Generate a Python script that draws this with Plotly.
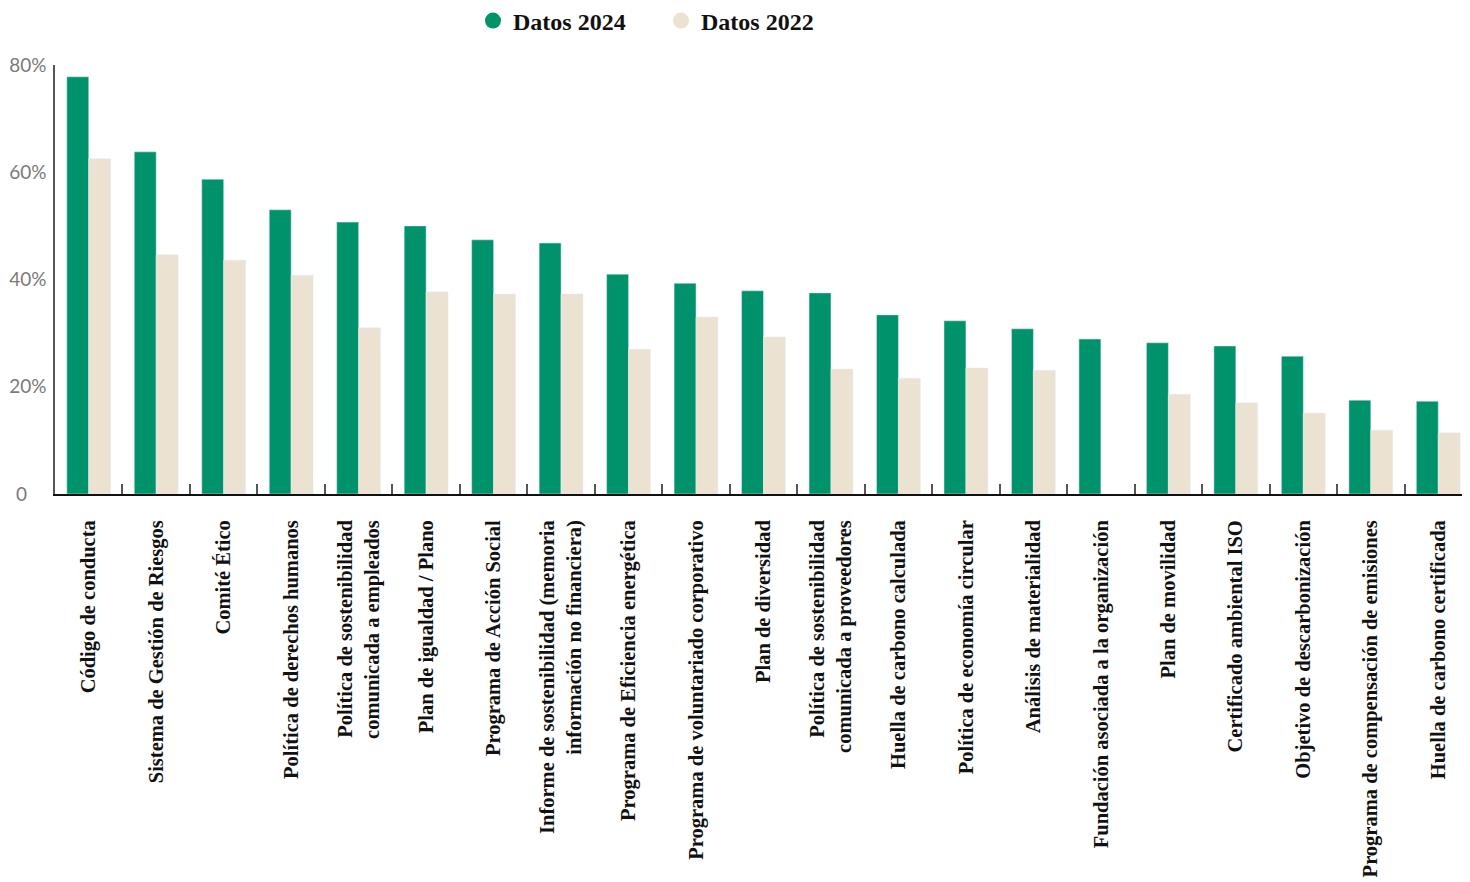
import plotly.graph_objects as go

categories = [
    "Código de conducta",
    "Sistema de Gestión de Riesgos",
    "Comité Ético",
    "Política de derechos humanos",
    "Política de sostenibilidad<br>comunicada a empleados",
    "Plan de igualdad / Plano",
    "Programa de Acción Social",
    "Informe de sostenibilidad (memoria<br>información no financiera)",
    "Programa de Eficiencia energética",
    "Programa de voluntariado corporativo",
    "Plan de diversidad",
    "Política de sostenibilidad<br>comunicada a proveedores",
    "Huella de carbono calculada",
    "Política de economía circular",
    "Análisis de materialidad",
    "Fundación asociada a la organización",
    "Plan de movilidad",
    "Certificado ambiental ISO",
    "Objetivo de descarbonización",
    "Programa de compensación de emisiones",
    "Huella de carbono certificada",
]
datos_2024 = [77.8, 63.8, 58.7, 53.0, 50.7, 50.0, 47.4, 46.8, 41.0, 39.3, 37.9,
              37.5, 33.4, 32.3, 30.8, 28.9, 28.2, 27.6, 25.7, 17.5, 17.3]
datos_2022 = [62.5, 44.6, 43.6, 40.8, 31.0, 37.7, 37.3, 37.3, 27.0, 33.0, 29.3,
              23.3, 21.6, 23.5, 23.1, None, 18.6, 17.0, 15.1, 11.9, 11.4]
y_tickvals = [0, 20, 40, 60, 80]
y_ticktext = ["0\u00a0\u00a0\u00a0\u00a0", "20%", "40%", "60%", "80%"]

GREEN = "#00926B"
BEIGE = "#EBE2D2"
SERIF = "Liberation Serif"

fig = go.Figure()
fig.add_trace(go.Bar(x=categories, y=datos_2024, name="Datos 2024",
                     marker_color=GREEN, showlegend=False))
fig.add_trace(go.Bar(x=categories, y=datos_2022, name="Datos 2022",
                     marker_color=BEIGE, showlegend=False))
# legend-only entries with circular symbols
fig.add_trace(go.Scatter(x=[None], y=[None], mode="markers", name="Datos 2024",
                         marker=dict(color=GREEN, size=16, symbol="circle")))
fig.add_trace(go.Scatter(x=[None], y=[None], mode="markers", name="Datos 2022",
                         marker=dict(color=BEIGE, size=16, symbol="circle")))

fig.update_layout(
    width=1470, height=882,
    margin=dict(l=47, r=6, t=57, b=396),
    paper_bgcolor="white", plot_bgcolor="white",
    barmode="group", bargap=0.35, bargroupgap=0,
    showlegend=True,
    legend=dict(orientation="h", xref="container", yref="container",
                x=653 / 1470, xanchor="center", y=1 - 13 / 882, yanchor="middle",
                font=dict(family=SERIF, size=24, color="#111", weight="bold"),
                entrywidth=143),
    xaxis=dict(
        type="category", tickangle=-90, automargin=False,
        tickfont=dict(family=SERIF, size=20.5, color="#111", weight="bold"),
        showline=True, linecolor="#111", linewidth=2,
        ticks="inside", tickson="boundaries", ticklen=10, tickwidth=2,
        tickcolor="#555", ticklabelstandoff=16, showgrid=False,
    ),
    yaxis=dict(
        range=[0, 80], tickvals=y_tickvals, ticktext=y_ticktext, automargin=False,
        tickfont=dict(family="Lato", size=19, color="#7a7a7a"),
        showline=True, linecolor="#555", linewidth=1.5,
        ticks="", showgrid=False, zeroline=False, ticklabelstandoff=3,
    ),
)

fig.write_html("out.html")
